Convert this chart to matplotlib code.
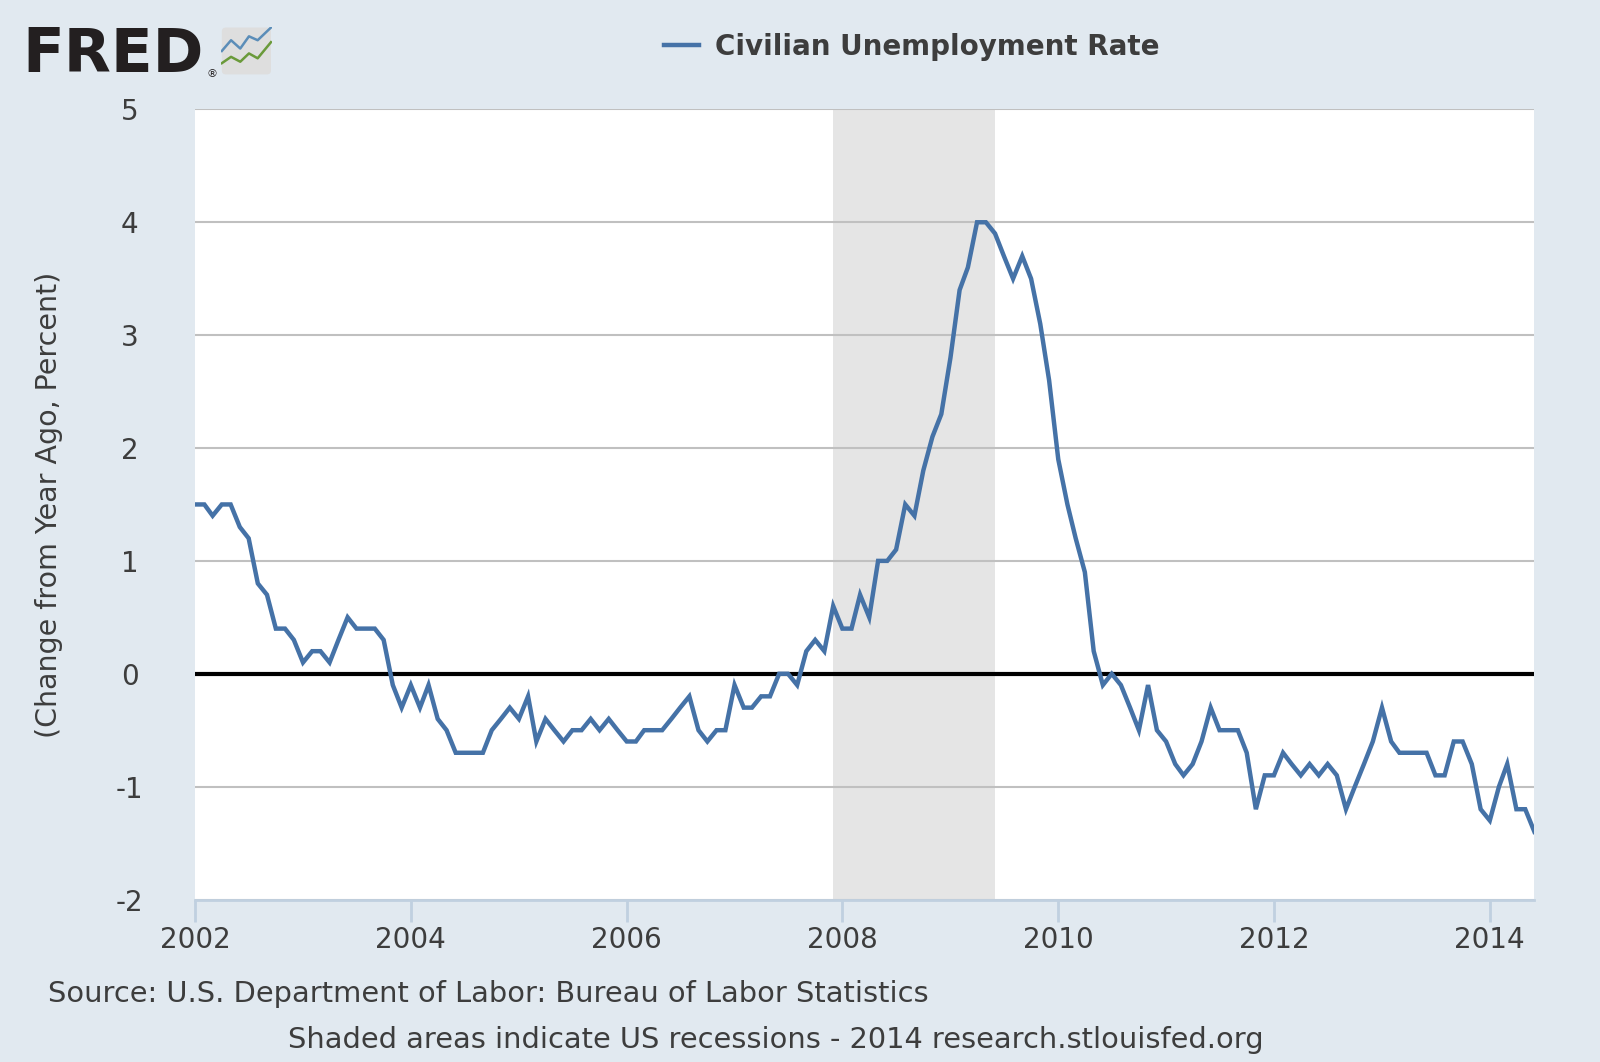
import matplotlib
matplotlib.use("Agg")
import matplotlib.pyplot as plt
import matplotlib.dates as mdates
import pandas as pd
from matplotlib.patches import FancyBboxPatch

plt.rcParams["axes.unicode_minus"] = False

# Data: change from year ago in civilian unemployment rate, monthly
months = pd.date_range("2002-01-01", "2014-06-01", freq="MS")
change = [
    1.5, 1.5, 1.4, 1.5, 1.5, 1.3, 1.2, 0.8, 0.7, 0.4, 0.4, 0.3,          # 2002
    0.1, 0.2, 0.2, 0.1, 0.3, 0.5, 0.4, 0.4, 0.4, 0.3, -0.1, -0.3,        # 2003
    -0.1, -0.3, -0.1, -0.4, -0.5, -0.7, -0.7, -0.7, -0.7, -0.5, -0.4, -0.3,  # 2004
    -0.4, -0.2, -0.6, -0.4, -0.5, -0.6, -0.5, -0.5, -0.4, -0.5, -0.4, -0.5,  # 2005
    -0.6, -0.6, -0.5, -0.5, -0.5, -0.4, -0.3, -0.2, -0.5, -0.6, -0.5, -0.5,  # 2006
    -0.1, -0.3, -0.3, -0.2, -0.2, 0.0, 0.0, -0.1, 0.2, 0.3, 0.2, 0.6,    # 2007
    0.4, 0.4, 0.7, 0.5, 1.0, 1.0, 1.1, 1.5, 1.4, 1.8, 2.1, 2.3,          # 2008
    2.8, 3.4, 3.6, 4.0, 4.0, 3.9, 3.7, 3.5, 3.7, 3.5, 3.1, 2.6,          # 2009
    1.9, 1.5, 1.2, 0.9, 0.2, -0.1, 0.0, -0.1, -0.3, -0.5, -0.1, -0.5,    # 2010
    -0.6, -0.8, -0.9, -0.8, -0.6, -0.3, -0.5, -0.5, -0.5, -0.7, -1.2, -0.9,  # 2011
    -0.9, -0.7, -0.8, -0.9, -0.8, -0.9, -0.8, -0.9, -1.2, -1.0, -0.8, -0.6,  # 2012
    -0.3, -0.6, -0.7, -0.7, -0.7, -0.7, -0.9, -0.9, -0.6, -0.6, -0.8, -1.2,  # 2013
    -1.3, -1.0, -0.8, -1.2, -1.2, -1.4,                                  # 2014
]
recession_start = pd.Timestamp("2007-12-01")
recession_end = pd.Timestamp("2009-06-01")
year_ticks = pd.to_datetime(["2002", "2004", "2006", "2008", "2010", "2012", "2014"])
y_ticks = [-2, -1, 0, 1, 2, 3, 4, 5]

bg = "#e1e9f0"
line_col = "#4572a7"
text_col = "#3d3d3d"

fig = plt.figure(figsize=(16, 10.62), dpi=100, facecolor=bg)
ax = fig.add_axes([0.122, 0.153, 0.837, 0.744])
ax.set_facecolor("white")

ax.axvspan(recession_start, recession_end, color="#e5e5e5", zorder=0, lw=0)
for y in y_ticks:
    ax.axhline(y, color="#c0c0c0", lw=1.5, zorder=1)
ax.axhline(0, color="black", lw=3, zorder=2)
ax.plot(months, change, color=line_col, lw=3.2, zorder=3,
        solid_joinstyle="miter", label="Civilian Unemployment Rate")

ax.set_xlim(months[0], months[-1])
ax.set_ylim(-2, 5)
ax.set_yticks(y_ticks)
ax.set_xticks(year_ticks)
ax.xaxis.set_major_formatter(mdates.DateFormatter("%Y"))

for s in ["top", "right", "left"]:
    ax.spines[s].set_visible(False)
ax.spines["bottom"].set_color("#c0d0e0")
ax.spines["bottom"].set_linewidth(2)

ax.tick_params(axis="y", length=0, pad=47, labelsize=20, labelcolor=text_col)
ax.tick_params(axis="x", length=16, width=2, color="#c0d0e0", pad=3,
               labelsize=20, labelcolor=text_col)
for lab in ax.get_yticklabels():
    lab.set_horizontalalignment("center")

ax.set_ylabel("(Change from Year Ago, Percent)", fontsize=20.5, color=text_col, labelpad=38)

# legend at top
fig.legend(loc="center", bbox_to_anchor=(0.57, 0.956), frameon=False,
           prop={"size": 20, "weight": "bold"}, labelcolor=text_col,
           handlelength=1.25, handletextpad=0.6)

# FRED logo
fig.text(0.014, 0.948, "FRED", fontsize=44, fontweight="heavy", color="#231f20",
         va="center", ha="left")
fig.text(0.129, 0.930, "®", fontsize=8, color="#231f20", va="center")
logo = fig.add_axes([0.138, 0.929, 0.032, 0.046])
logo.set_xlim(0, 1)
logo.set_ylim(0, 1)
logo.axis("off")
logo.add_patch(FancyBboxPatch((0.02, 0.02), 0.96, 0.96, boxstyle="round,pad=0,rounding_size=0.08",
                              fc="#dedede", ec="none"))
logo.plot([0.02, 0.2, 0.38, 0.55, 0.72, 0.98], [0.5, 0.72, 0.55, 0.8, 0.72, 0.98],
          color="#5b8db8", lw=1.8)
logo.plot([0.02, 0.2, 0.38, 0.55, 0.72, 0.98], [0.25, 0.38, 0.28, 0.45, 0.35, 0.68],
          color="#6a9a3a", lw=1.8)

fig.text(0.03, 0.064, "Source: U.S. Department of Labor: Bureau of Labor Statistics",
         fontsize=20.8, color=text_col, ha="left", va="center")
fig.text(0.485, 0.021, "Shaded areas indicate US recessions - 2014 research.stlouisfed.org",
         fontsize=20.8, color=text_col, ha="center", va="center")

fig.savefig("out.png", dpi=100, facecolor=bg)
